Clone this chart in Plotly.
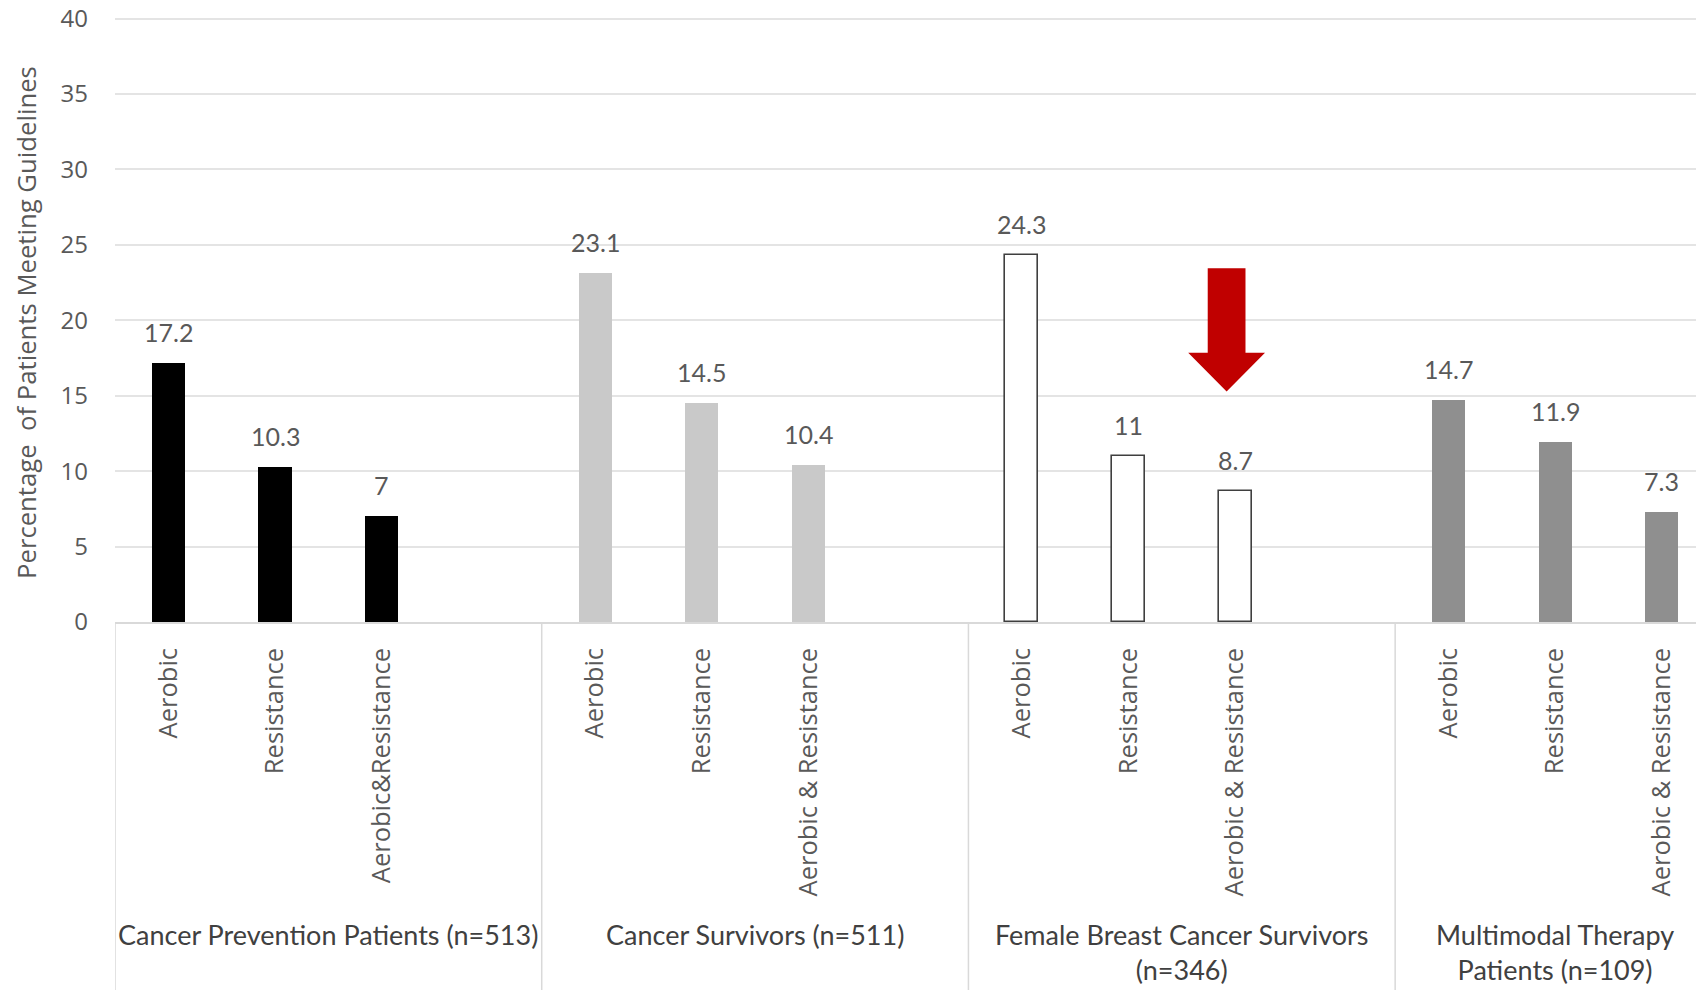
import plotly.graph_objects as go

# ---------------- data ----------------
groups = [
    "Cancer Prevention Patients (n=513)",
    "Cancer Survivors (n=511)",
    "Female Breast Cancer Survivors<br>(n=346)",
    "Multimodal Therapy<br>Patients (n=109)",
]
slots_per_group = [4, 4, 4, 3]          # Excel left an empty category after groups 1-3
labels_g1 = ["Aerobic", "Resistance", "Aerobic&Resistance"]
labels_other = ["Aerobic", "Resistance", "Aerobic & Resistance"]

prevention = [17.2, 10.3, 7]
survivors = [23.1, 14.5, 10.4]
breast = [24.3, 11, 8.7]
multimodal = [14.7, 11.9, 7.3]

series = [prevention, survivors, breast, multimodal]
tick_labels = [labels_g1, labels_other, labels_other, labels_other]

# ---------------- styles ----------------
fill_colors = ["#000000", "#c9c9c9", "#ffffff", "#8f8f8f"]
line_colors = ["#000000", "#c9c9c9", "#3f3f3f", "#8f8f8f"]
line_widths = [0, 0, 1.6, 0]
TEXT_GRAY = "#595959"
DARK_TEXT = "#404040"
GRID = "#e4e4e4"
DIVIDER = "#d9d9d9"

W, H = 1696, 990
ML, MR, MT, MB = 115, 0, 17, 368
plot_w = W - ML - MR
plot_h = H - MT - MB
Y_MAX = 40.1   # a hair above 40 so the top gridline is drawn

fig = go.Figure()

tickvals, ticktext = [], []
group_starts = []
start = 0
for g, vals in enumerate(series):
    group_starts.append(start)
    xs = [start + i for i in range(len(vals))]
    tickvals += xs
    ticktext += tick_labels[g]
    fig.add_trace(go.Bar(
        x=xs, y=vals, width=0.31,
        marker=dict(color=fill_colors[g],
                    line=dict(color=line_colors[g], width=line_widths[g])),
        showlegend=False, hoverinfo="skip",
    ))
    # data labels
    for x, v in zip(xs, vals):
        fig.add_annotation(
            x=x, y=v, xref="x", yref="y", text=f"{v:g}", showarrow=False,
            yanchor="bottom", yshift=14,
            font=dict(family="Lato, Open Sans, sans-serif", size=25, color=TEXT_GRAY),
        )
    start += slots_per_group[g]

total_slots = start
x_lo = -0.5
x_hi = x_lo + total_slots - 0.18   # right part of the chart is cropped in the reference

def to_paper_y(px):
    return (H - MB - px) / plot_h

# group dividers + group labels
for g, s in enumerate(group_starts):
    fig.add_shape(type="line", xref="x", yref="paper",
                  x0=s - 0.5, x1=s - 0.5, y0=0, y1=to_paper_y(H),
                  line=dict(color=DIVIDER, width=1.5), layer="below")
    center = s - 0.5 + slots_per_group[g] / 2
    fig.add_annotation(
        x=center, y=to_paper_y(916), xref="x", yref="paper",
        text=groups[g], showarrow=False, xanchor="center", yanchor="top",
        align="center",
        font=dict(family="Lato, Open Sans, sans-serif", size=27, color=DARK_TEXT),
    )

# red highlight arrow above the breast-cancer "Aerobic & Resistance" bar
target_x = group_starts[2] + 2
ax = target_x - 0.08
shaft_hw, head_hw = 0.177, 0.36
y_top, y_head, y_tip = 23.45, 17.85, 15.27
arrow_path = (
    f"M {ax - shaft_hw} {y_top} L {ax + shaft_hw} {y_top} "
    f"L {ax + shaft_hw} {y_head} L {ax + head_hw} {y_head} "
    f"L {ax} {y_tip} L {ax - head_hw} {y_head} "
    f"L {ax - shaft_hw} {y_head} Z"
)
fig.add_shape(type="path", xref="x", yref="y", path=arrow_path,
              fillcolor="#c00000", line=dict(width=0))

# y-axis title
fig.add_annotation(
    x=(26 - ML) / plot_w, y=to_paper_y(323), xref="paper", yref="paper",
    text="Percentage  of Patients Meeting Guidelines", textangle=-90,
    showarrow=False, xanchor="center", yanchor="middle",
    font=dict(family="Open Sans, sans-serif", size=25.7, color=TEXT_GRAY),
)

fig.update_layout(
    width=W, height=H,
    margin=dict(l=ML, r=MR, t=MT, b=MB, autoexpand=False),
    paper_bgcolor="white", plot_bgcolor="white",
    bargap=0, barmode="overlay",
    xaxis=dict(
        range=[x_lo, x_hi], tickmode="array", tickvals=tickvals, ticktext=ticktext,
        tickangle=-90, showgrid=False, zeroline=False,
        showline=True, linecolor=DIVIDER, linewidth=1.5,
        ticks="", ticklabelstandoff=14,
        tickfont=dict(family="Open Sans, sans-serif", size=25.5, color=TEXT_GRAY),
    ),
    yaxis=dict(
        range=[0, Y_MAX], dtick=5, tick0=0, showgrid=True, gridcolor=GRID, gridwidth=1.5,
        zeroline=False, showline=False, ticks="", ticklabelstandoff=26,
        tickfont=dict(family="Open Sans, sans-serif", size=24, color=TEXT_GRAY),
    ),
)

fig.write_html("out.html")
